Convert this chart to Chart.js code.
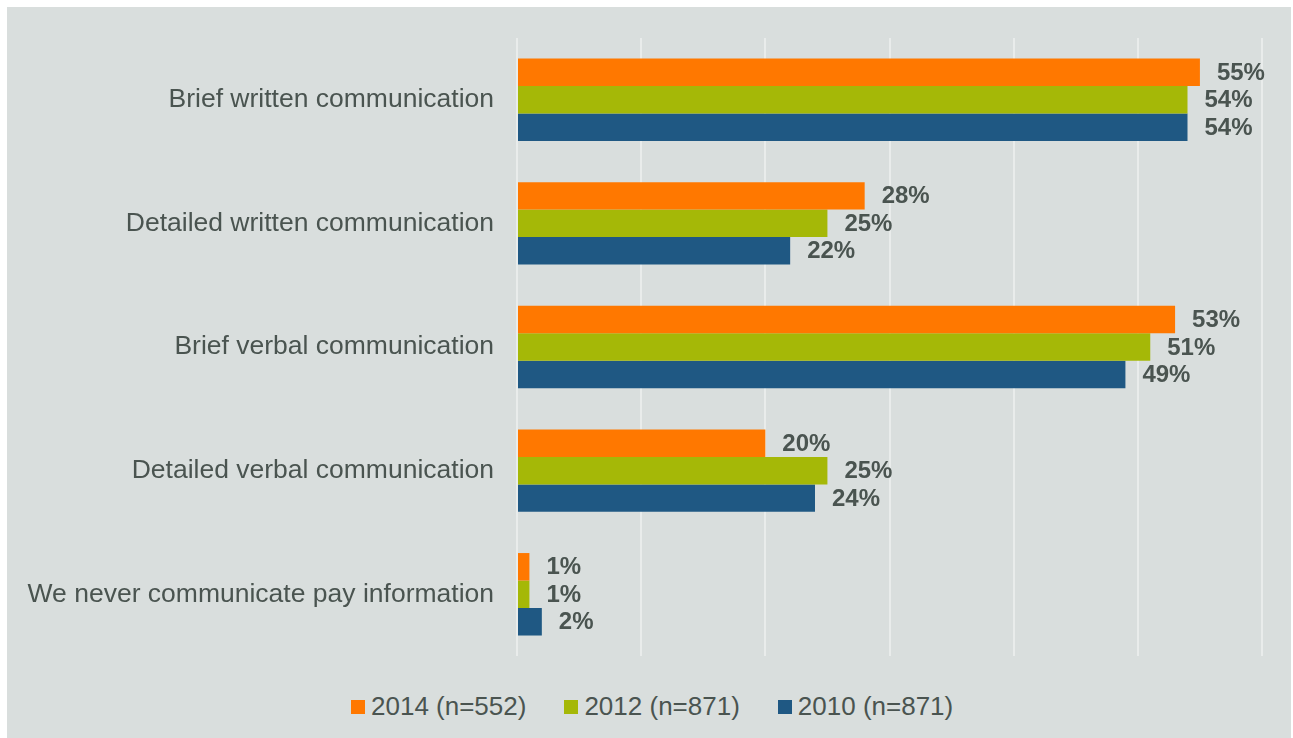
<!DOCTYPE html>
<html>
<head>
<meta charset="utf-8">
<script src="https://cdn.jsdelivr.net/npm/chart.js@4/dist/chart.umd.min.js"></script>
<style>
    body { margin: 0; background: #ffffff; font-family: "Liberation Sans", Arial, sans-serif; }
    .wrapper {
        position: absolute; left: 7px; top: 7px; width: 1284px; height: 740px;
        background: #d9dedd;
    }
    .chart-box { position: absolute; left: 0; top: 0; width: 1284px; height: 680px; }
    .legend {
        position: absolute; left: 344px; top: 684px;
        display: flex; white-space: nowrap;
        font-size: 26px; color: #4a5450;
    }
    .legend span.item { display: flex; align-items: center; margin-right: 38px; }
    .legend i { display: inline-block; width: 14px; height: 14px; margin-right: 6px; }
</style>
</head>
<body>
<div class="wrapper">
    <div class="chart-box"><canvas id="payChart"></canvas></div>
    <div class="legend" id="legend"></div>
</div>
<script>
const categories = [
    'Brief written communication',
    'Detailed written communication',
    'Brief verbal communication',
    'Detailed verbal communication',
    'We never communicate pay information'
];
const seriesNames = ['2014 (n=552)', '2012 (n=871)', '2010 (n=871)'];
const values2014 = [55, 28, 53, 20, 1];
const values2012 = [54, 25, 51, 25, 1];
const values2010 = [54, 22, 49, 24, 2];
const colors = ['#ff7800', '#a5b807', '#1f5883'];

const textColor = '#4a5450';

// writes the percentage just past the end of every bar
const valueLabels = {
    id: 'valueLabels',
    afterDatasetsDraw(chart) {
        const ctx = chart.ctx;
        ctx.save();
        ctx.font = 'bold 24px "Liberation Sans", Arial, sans-serif';
        ctx.fillStyle = textColor;
        ctx.textAlign = 'left';
        ctx.textBaseline = 'middle';
        chart.data.datasets.forEach((ds, i) => {
            chart.getDatasetMeta(i).data.forEach((bar, j) => {
                ctx.fillText(ds.data[j] + '%', bar.x + 17, bar.y + 1);
            });
        });
        ctx.restore();
    }
};

const ctx = document.getElementById('payChart').getContext('2d');
const payChart = new Chart(ctx, {
    type: 'bar',
    data: {
        labels: categories,
        datasets: [
            { label: seriesNames[0], data: values2014, backgroundColor: colors[0] },
            { label: seriesNames[1], data: values2012, backgroundColor: colors[1] },
            { label: seriesNames[2], data: values2010, backgroundColor: colors[2] }
        ]
    },
    options: {
        indexAxis: 'y',
        responsive: true,
        maintainAspectRatio: false,
        animation: false,
        layout: { padding: { top: 22, right: 29, bottom: 5, left: 0 } },
        datasets: {
            bar: { categoryPercentage: 0.667, barPercentage: 1.0, borderWidth: 0 }
        },
        scales: {
            x: {
                min: 0,
                max: 60,
                ticks: { display: false, stepSize: 10 },
                grid: { color: '#e9eceb', lineWidth: 2, drawTicks: false },
                border: { display: false }
            },
            y: {
                grid: { display: false },
                border: { display: false },
                ticks: {
                    color: textColor,
                    padding: 15,
                    font: { family: '"Liberation Sans", Arial, sans-serif', size: 26.5 }
                },
                afterFit(scale) { scale.width = 510; }
            }
        },
        plugins: {
            legend: { display: false },
            tooltip: { enabled: false }
        }
    },
    plugins: [valueLabels]
});

// legend under the chart
const legendEl = document.getElementById('legend');
seriesNames.forEach((name, i) => {
    const item = document.createElement('span');
    item.className = 'item';
    item.innerHTML = '<i style="background:' + colors[i] + '"></i>' + name;
    legendEl.appendChild(item);
});
</script>
</body>
</html>
